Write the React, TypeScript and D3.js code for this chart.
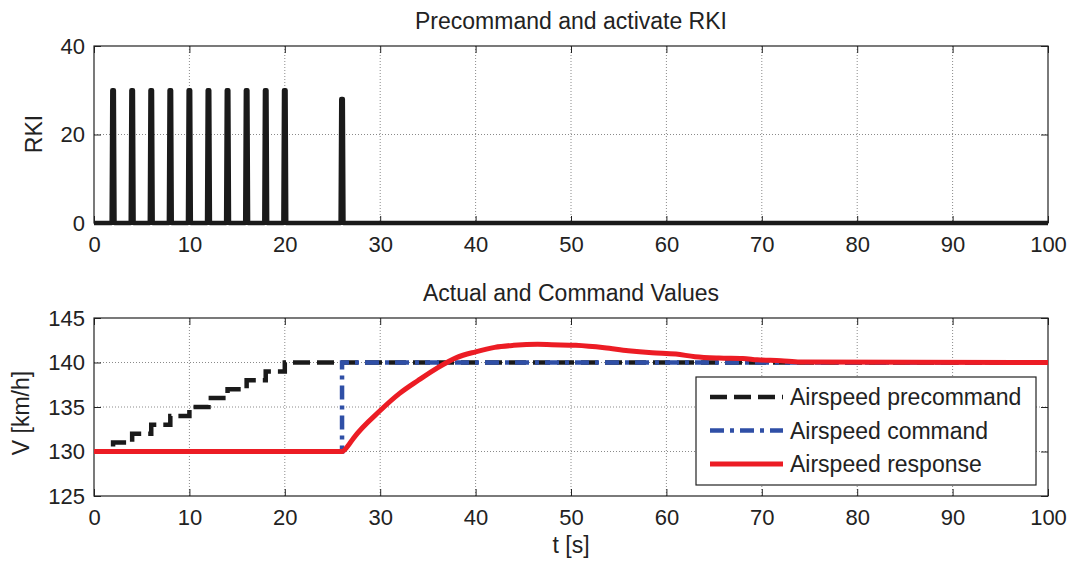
import React, { useEffect, useRef } from 'react';
import * as d3 from 'd3';

// RKI activation spikes (time in s, peak value)
const rkiTimes = [2, 4, 6, 8, 10, 12, 14, 16, 18, 20, 26];
const rkiPeaks = [30, 30, 30, 30, 30, 30, 30, 30, 30, 30, 28];

// airspeed precommand (stairs)
const preTimes = [0, 2, 4, 6, 8, 10, 12, 14, 16, 18, 20, 100];
const preValues = [130, 131, 132, 133, 134, 135, 136, 137, 138, 139, 140, 140];

// airspeed command (single step)
const cmdTimes = [0, 26, 100];
const cmdValues = [130, 140, 140];

// airspeed response
const respTimes = [0, 26, 26.6, 27.2, 30, 32, 34, 36, 38, 40, 42, 44, 46.5, 48, 50.5, 53.5, 56, 58.5, 61, 63, 65.5, 68, 69.5, 72, 74, 100];
const respValues = [130, 130, 130.6, 131.5, 134.6, 136.5, 138.0, 139.4, 140.55, 141.2, 141.7, 141.93, 142.05, 142.0, 141.93, 141.66, 141.33, 141.1, 140.95, 140.65, 140.5, 140.45, 140.3, 140.2, 140.05, 140];

const xTicks = [0, 10, 20, 30, 40, 50, 60, 70, 80, 90, 100];
const rkiTicks = [0, 20, 40];
const vTicks = [125, 130, 135, 140, 145];

const legendItems = [
  { label: 'Airspeed precommand', color: '#1a1a1a', dash: '17 7' },
  { label: 'Airspeed command', color: '#2f4fa6', dash: '14 6 4 6' },
  { label: 'Airspeed response', color: '#ec1c24', dash: null },
];

const W = 1071;
const H = 563;
const FONT = '"Liberation Sans", Arial, sans-serif';

const App = () => {
  const ref = useRef<SVGSVGElement | null>(null);

  useEffect(() => {
    const svg = d3.select(ref.current);
    svg.selectAll('*').remove();

    const x = d3.scaleLinear().domain([0, 100]).range([94, 1048]);
    const yR = d3.scaleLinear().domain([0, 40]).range([223, 46]);
    const yV = d3.scaleLinear().domain([125, 145]).range([496, 318]);

    // draws frame, grid, inner ticks and labels for one panel
    const drawAxes = (y, yTicks, title, yLabel, yLabelX, yLabelY) => {
      const [y0, y1] = y.range();
      const g = svg.append('g');

      // grid
      g.append('g')
        .selectAll('line')
        .data(xTicks.slice(1, -1))
        .join('line')
        .attr('x1', d => x(d)).attr('x2', d => x(d))
        .attr('y1', y1).attr('y2', y0)
        .attr('stroke', '#8a8a8a').attr('stroke-width', 1)
        .attr('stroke-dasharray', '1 2');
      g.append('g')
        .selectAll('line')
        .data(yTicks.slice(1, -1))
        .join('line')
        .attr('x1', 94).attr('x2', 1048)
        .attr('y1', d => y(d)).attr('y2', d => y(d))
        .attr('stroke', '#8a8a8a').attr('stroke-width', 1)
        .attr('stroke-dasharray', '1 2');

      const styleAxis = (a) => {
        a.select('.domain').remove();
        a.selectAll('line').attr('stroke', '#222');
        a.selectAll('text')
          .attr('fill', '#222')
          .style('font-family', FONT)
          .style('font-size', '22px');
      };

      g.append('g').attr('transform', `translate(0,${y0})`)
        .call(d3.axisBottom(x).tickValues(xTicks).tickSize(-7).tickPadding(13).tickFormat(d3.format('d')))
        .call(styleAxis);
      g.append('g').attr('transform', `translate(0,${y1})`)
        .call(d3.axisTop(x).tickValues(xTicks).tickSize(-7).tickFormat(() => ''))
        .call(styleAxis);
      g.append('g').attr('transform', 'translate(94,0)')
        .call(d3.axisLeft(y).tickValues(yTicks).tickSize(-7).tickPadding(9).tickFormat(d3.format('d')))
        .call(styleAxis);
      g.append('g').attr('transform', 'translate(1048,0)')
        .call(d3.axisRight(y).tickValues(yTicks).tickSize(-7).tickFormat(() => ''))
        .call(styleAxis);

      g.append('rect')
        .attr('x', 94).attr('y', y1)
        .attr('width', 1048 - 94).attr('height', y0 - y1)
        .attr('fill', 'none').attr('stroke', '#222').attr('stroke-width', 1.2);

      g.append('text')
        .attr('x', 571).attr('y', y1 - 17.5)
        .attr('text-anchor', 'middle')
        .style('font-family', FONT).style('font-size', '23px')
        .attr('fill', '#222')
        .text(title);

      g.append('text')
        .attr('transform', `translate(${yLabelX},${yLabelY}) rotate(-90)`)
        .attr('text-anchor', 'middle')
        .style('font-family', FONT).style('font-size', '23px')
        .attr('fill', '#222')
        .text(yLabel);
    };

    drawAxes(yR, rkiTicks, 'Precommand and activate RKI', 'RKI', 42, 134);
    drawAxes(yV, vTicks, 'Actual and Command Values', 'V [km/h]', 29, 413);

    svg.append('text')
      .attr('x', 571).attr('y', 553)
      .attr('text-anchor', 'middle')
      .style('font-family', FONT).style('font-size', '23px')
      .attr('fill', '#222')
      .text('t [s]');

    // RKI signal: baseline plus narrow spikes
    const rkiPts: [number, number][] = [[0, 0]];
    rkiTimes.forEach((t, i) => {
      rkiPts.push([t - 0.15, 0], [t - 0.08, rkiPeaks[i]], [t + 0.08, rkiPeaks[i]], [t + 0.15, 0]);
    });
    rkiPts.push([100, 0]);
    svg.append('path')
      .datum(rkiPts)
      .attr('d', d3.line().x(d => x(d[0])).y(d => yR(d[1])))
      .attr('fill', 'none')
      .attr('stroke', '#1a1a1a')
      .attr('stroke-width', 4.5)
      .attr('stroke-linejoin', 'round');

    const stepLine = d3.line().curve(d3.curveStepAfter).x(d => x(d[0])).y(d => yV(d[1]));
    const smoothLine = d3.line().curve(d3.curveMonotoneX).x(d => x(d[0])).y(d => yV(d[1]));

    svg.append('path')
      .datum(preTimes.map((t, i) => [t, preValues[i]]))
      .attr('d', stepLine)
      .attr('fill', 'none')
      .attr('stroke', legendItems[0].color)
      .attr('stroke-width', 4.5)
      .attr('stroke-dasharray', legendItems[0].dash);

    svg.append('path')
      .datum(cmdTimes.map((t, i) => [t, cmdValues[i]]))
      .attr('d', stepLine)
      .attr('fill', 'none')
      .attr('stroke', legendItems[1].color)
      .attr('stroke-width', 4.5)
      .attr('stroke-dasharray', legendItems[1].dash);

    svg.append('path')
      .datum(respTimes.map((t, i) => [t, respValues[i]]))
      .attr('d', smoothLine)
      .attr('fill', 'none')
      .attr('stroke', legendItems[2].color)
      .attr('stroke-width', 5)
      .attr('stroke-linejoin', 'round');

    // legend
    const lg = svg.append('g').attr('transform', 'translate(696,377)');
    lg.append('rect')
      .attr('width', 340).attr('height', 108)
      .attr('fill', '#fff').attr('stroke', '#222').attr('stroke-width', 1.2);
    const row = lg.selectAll('g')
      .data(legendItems)
      .join('g')
      .attr('transform', (d, i) => `translate(0,${20 + i * 33.5})`);
    row.append('line')
      .attr('x1', 14).attr('x2', 87)
      .attr('stroke', d => d.color)
      .attr('stroke-width', (d, i) => (i === 2 ? 5 : 4.5))
      .attr('stroke-dasharray', d => d.dash);
    row.append('text')
      .attr('x', 94).attr('dy', '0.35em')
      .style('font-family', FONT).style('font-size', '23px')
      .attr('fill', '#222')
      .text(d => d.label);
  }, []);

  return (
    <div style={{ position: 'fixed', left: 0, top: 0, width: W, height: H, background: '#fff' }}>
      <svg ref={ref} width={W} height={H} />
    </div>
  );
};

export default App;
